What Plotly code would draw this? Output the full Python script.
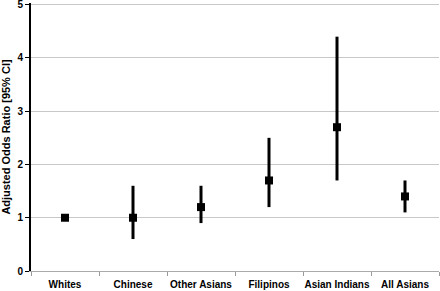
import plotly.graph_objects as go

categories = ["Whites", "Chinese", "Other Asians", "Filipinos", "Asian Indians", "All Asians"]
odds_ratio = [1.0, 1.0, 1.2, 1.7, 2.7, 1.4]
ci_low = [1.0, 0.6, 0.9, 1.2, 1.7, 1.1]
ci_high = [1.0, 1.6, 1.6, 2.5, 4.4, 1.7]
y_ticks = [0, 1, 2, 3, 4, 5]

err_plus = [h - v for h, v in zip(ci_high, odds_ratio)]
err_minus = [v - l for v, l in zip(odds_ratio, ci_low)]

font_family = "Liberation Sans, Arial, sans-serif"

fig = go.Figure()
fig.add_trace(go.Scatter(
    x=categories, y=odds_ratio, mode="markers",
    marker=dict(symbol="square", size=8, color="black"),
    error_y=dict(type="data", symmetric=False, array=err_plus, arrayminus=err_minus,
                 width=0, thickness=3, color="black"),
    showlegend=False, cliponaxis=False,
))

fig.update_layout(
    width=440, height=291,
    margin=dict(l=31, r=1, t=3, b=20),
    paper_bgcolor="white", plot_bgcolor="white",
    font=dict(family=font_family, size=10, color="black", weight="bold"),
    xaxis=dict(
        type="category", tickson="boundaries", ticks="outside", ticklen=4,
        tickcolor="#999999", showgrid=False, showline=True, linecolor="#aaaaaa",
        linewidth=1, range=[-0.5, 5.5], tickangle=0, automargin=False,
        ticklabelstandoff=4,
        tickfont=dict(family=font_family, size=10, weight="bold"),
    ),
    yaxis=dict(
        range=[0, 5.032], tickvals=y_ticks, ticks="outside", ticklen=4, tickcolor="black",
        showgrid=True, gridcolor="#c8c8c8", gridwidth=1, zeroline=False,
        showline=True, linecolor="black", linewidth=2, automargin=False,
        ticklabeloverflow="allow",
        tickfont=dict(family=font_family, size=10, weight="bold"),
        title=dict(text="Adjusted Odds Ratio [95% CI]", standoff=8,
                   font=dict(family=font_family, size=11, weight="bold")),
    ),
)

fig.write_html("out.html", config={"displayModeBar": False},
               post_script="document.body.style.margin='0';document.body.style.padding='0';")
